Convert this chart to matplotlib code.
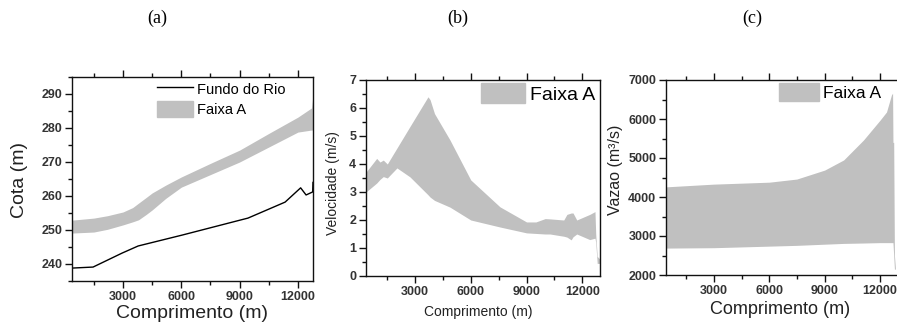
import matplotlib
matplotlib.use('Agg')
import matplotlib.pyplot as plt
from matplotlib.lines import Line2D
from matplotlib.patches import Patch
from matplotlib.ticker import MultipleLocator

plt.rcParams['font.family'] = ['Liberation Sans', 'DejaVu Sans']

# (a) Cota - river bed and band "Faixa A"
cota_x = [380, 1500, 2200, 3000, 3500, 3800, 4200, 4500, 5200, 6000, 7500, 9000,
          10500, 12000, 12700, 12770]
cota_sup = [252.9, 253.5, 254.2, 255.3, 256.6, 257.9, 259.6, 260.9, 263.2, 265.6,
            269.6, 273.5, 278.4, 283.2, 285.9, 289.5]
cota_inf = [249.1, 249.4, 250.2, 251.5, 252.4, 253.0, 254.6, 255.9, 259.3, 262.6,
            266.3, 270.0, 274.4, 278.8, 279.4, 279.4]
fundo_x = [380, 1460, 2950, 3780, 6040, 9020, 9430, 11340, 12140, 12420, 12760, 12770, 12775]
fundo_y = [238.8, 239.1, 243.2, 245.3, 248.5, 252.9, 253.5, 258.2, 262.4, 260.3, 261.2, 263.0, 264.0]

# (b) Velocidade
vel_x = [366, 941, 1118, 1296, 1511, 2030, 2730, 3700, 3810, 4050, 4880, 6000, 7570,
         9000, 9500, 10000, 10260, 11000, 11170, 11400, 11500, 11700, 12400, 12680,
         12720, 12800, 12950]
vel_sup = [3.71, 4.2, 4.07, 4.14, 4.0, 4.57, 5.34, 6.4, 6.3, 5.8, 4.86, 3.43, 2.47,
           1.93, 1.93, 2.05, 2.04, 2.0, 2.2, 2.25, 2.25, 2.0, 2.2, 2.3,
           1.5, 0.7, 0.6]
vel_inf = [3.0, 3.32, 3.45, 3.55, 3.5, 3.86, 3.54, 2.9, 2.82, 2.7, 2.46, 2.0, 1.75,
           1.54, 1.52, 1.5, 1.5, 1.42, 1.39, 1.29, 1.4, 1.5, 1.3, 1.35,
           1.2, 0.45, 0.45]

# (c) Vazao
vaz_x = [405, 3000, 6000, 7490, 9000, 10030, 11100, 12000, 12350, 12620, 12680, 12700,
         12740, 12780, 12830]
vaz_sup = [4260, 4330, 4380, 4460, 4690, 4950, 5460, 5970, 6180, 6620, 6660, 5400,
           5400, 2500, 2200]
vaz_inf = [2690, 2700, 2740, 2760, 2790, 2810, 2820, 2830, 2830, 2830, 2830, 2830,
           2500, 2150, 2150]

W, H = 897, 324
fig = plt.figure(figsize=(W / 100, H / 100), dpi=100)
gray = '#c0c0c0'


def add_ax(l, r, t, b):
    return fig.add_axes([l / W, (H - b) / H, (r - l) / W, (b - t) / H])


def style(ax, ymajor, yminor):
    ax.xaxis.set_major_locator(MultipleLocator(3000))
    ax.xaxis.set_minor_locator(MultipleLocator(1500))
    ax.yaxis.set_major_locator(MultipleLocator(ymajor))
    ax.yaxis.set_minor_locator(MultipleLocator(yminor))
    ax.tick_params(which='both', direction='out', top=True, right=False,
                   width=1, color='#111111')
    ax.tick_params(which='major', length=5, labelsize=9, pad=2)
    ax.tick_params(which='minor', length=3)
    for s in ax.spines.values():
        s.set_linewidth(1)
        s.set_color('#111111')
    for lab in ax.get_xticklabels() + ax.get_yticklabels():
        lab.set_fontweight('bold')
        lab.set_color('#333333')


def legend_at(ax, handles, labels, ax_l, ax_w, ax_b, ax_h, px, py, size, hl, hh,
              spacing=0.15):
    # upper-left corner of the legend given in pixels
    ax.legend(handles=handles, labels=labels, loc='upper left',
              bbox_to_anchor=((px - ax_l) / ax_w, (ax_b - py) / ax_h),
              frameon=False, fontsize=size, handlelength=hl, handleheight=hh,
              labelspacing=spacing, handletextpad=0.25, borderpad=0,
              borderaxespad=0)


# panel (a)
ax1 = add_ax(72, 313, 77, 281)
ax1.fill_between(cota_x, cota_inf, cota_sup, color=gray, lw=0)
ax1.plot(fundo_x, fundo_y, color='black', lw=1)
ax1.set_xlim(376, 12776)
ax1.set_ylim(235, 295)
style(ax1, 10, 5)
ax1.set_xticks([3000, 6000, 9000, 12000])
legend_at(ax1, [Line2D([], [], color='black', lw=1), Patch(color=gray)],
          ['Fundo do Rio', 'Faixa A'], 72, 241, 281, 204, 157, 81, 10.5, 2.5, 1.3,
          spacing=0.3)

# panel (b)
ax2 = add_ax(366, 600, 80, 276)
ax2.fill_between(vel_x, vel_inf, vel_sup, color=gray, lw=0)
ax2.set_xlim(366, 12950)
ax2.set_ylim(0, 7)
style(ax2, 1, 0.5)
ax2.set_xticks([3000, 6000, 9000, 12000])
legend_at(ax2, [Patch(color=gray)], ['Faixa A'], 366, 234, 276, 196,
          481, 83, 14, 2.27, 1.2)

# panel (c)
ax3 = add_ax(666, 898, 80, 275)
ax3.fill_between(vaz_x, vaz_inf, vaz_sup, color=gray, lw=0)
ax3.set_xlim(405, 12973)
ax3.set_ylim(2000, 7000)
style(ax3, 1000, 500)
ax3.set_xticks([3000, 6000, 9000, 12000])
legend_at(ax3, [Patch(color=gray)], ['Faixa A'], 666, 232, 275, 195,
          779, 83, 12.5, 2.3, 1.26)

# axis labels
def ftext(x, y, s, **kw):
    fig.text(x / W, 1 - y / H, s, ha='center', va='center', color='#222222', **kw)

ftext(20, 180, 'Cota (m)', fontsize=14, rotation=90)
ftext(192, 313, 'Comprimento (m)', fontsize=14)
ftext(333, 183, 'Velocidade (m/s)', fontsize=10, rotation=90)
ftext(478, 312, 'Comprimento (m)', fontsize=10)
ftext(615, 170, 'Vazao (m³/s)', fontsize=11.5, rotation=90)
ftext(780, 310, 'Comprimento (m)', fontsize=13)

# panel titles
for x, t in [(157, '(a)'), (458, '(b)'), (752, '(c)')]:
    fig.text(x / W, 1 - 18 / H, t, ha='center', va='center', fontsize=13,
             family='Liberation Serif')

fig.savefig('out.png', dpi=100)
